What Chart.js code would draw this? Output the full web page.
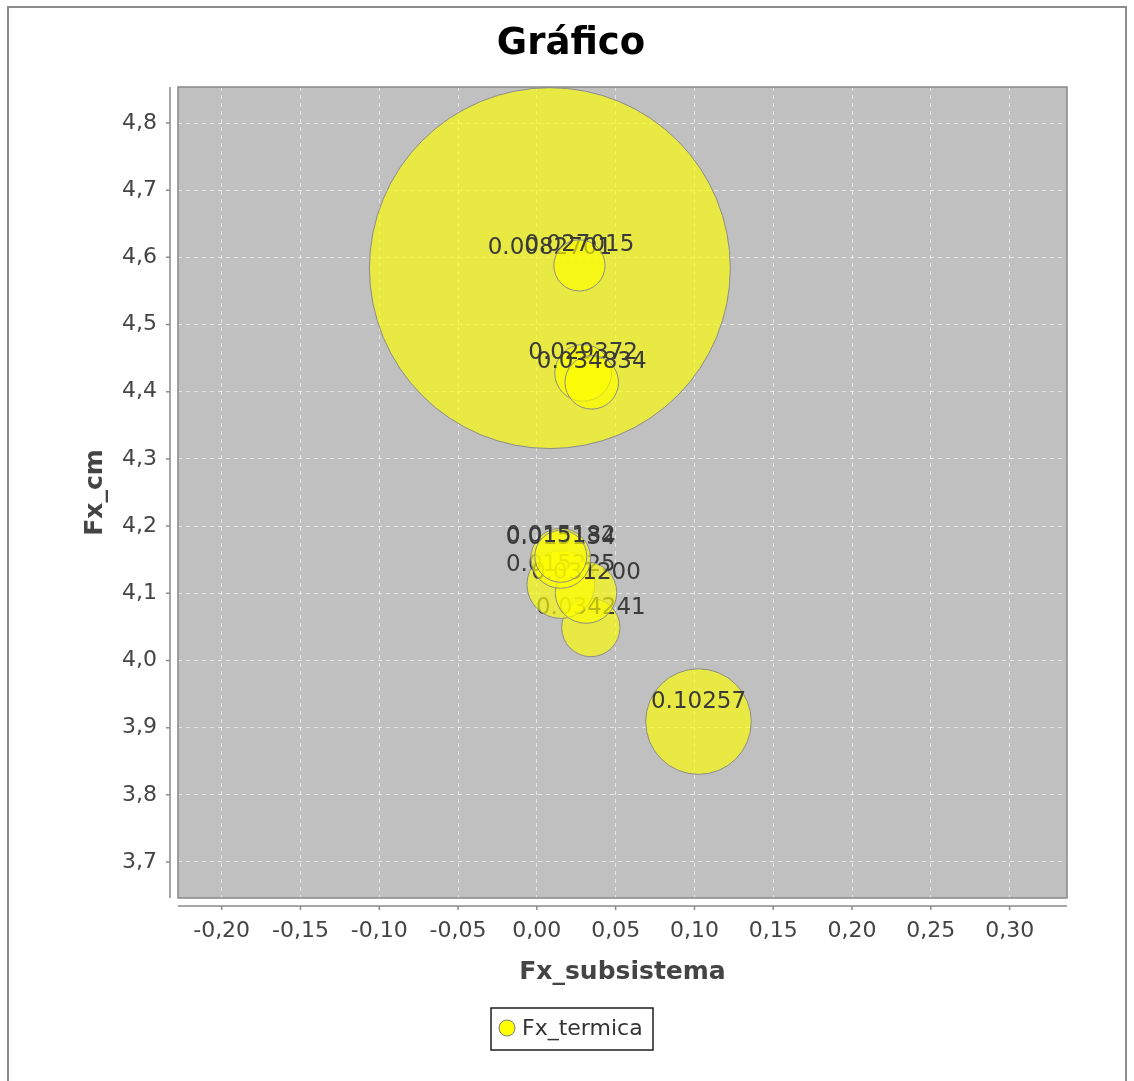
<!DOCTYPE html>
<html>
<head>
<meta charset="utf-8">
<title>Gráfico</title>
<script src="https://cdn.jsdelivr.net/npm/chart.js@4/dist/chart.umd.min.js"></script>
<style>
  html, body { margin: 0; padding: 0; background: #ffffff; }
  #wrap { width: 1134px; height: 1081px; position: relative; }
</style>
</head>
<body>
<div id="wrap"><canvas id="chart" width="1134" height="1081"></canvas></div>
<script>
// Series "Fx_termica": x = Fx_subsistema, y = Fx_cm, z = bubble size (domain-axis units).
// Items are listed in drawing order; each item label prints its x value.
const seriesName = 'Fx_termica';
const fxSubsistema = ['0.0082701', '0.027015', '0.029372', '0.034834', '0.10257',
                      '0.034241', '0.015225', '0.031200', '0.015134', '0.015182'];
const fxCm        = [4.584, 4.588, 4.428, 4.414, 3.909,
                     4.049, 4.113, 4.101, 4.152, 4.155];
const bubbleSize  = [0.229, 0.0325, 0.036, 0.034, 0.067,
                     0.037, 0.043, 0.039, 0.038, 0.033];

// Axis ranges and tick spacing
const xMin = -0.2277, xMax = 0.3364, xStep = 0.05;
const yMin = 3.6464, yMax = 4.8536, yStep = 0.1;

const FONT = 'DejaVu Sans';
const BUBBLE_FILL = 'rgba(255,255,0,0.65)';
const BUBBLE_EDGE = '#8c8c8c';

function commaNumber(v, digits) {
  let s = Math.abs(v) < 1e-9 ? (0).toFixed(digits) : v.toFixed(digits);
  return s.replace('.', ',');
}

const points = fxSubsistema.map((x, i) => ({ x: Number(x), y: fxCm[i] }));

// Bubble diameter follows the domain axis: z is measured in x units
function bubbleRadius(chart, i) {
  const xs = chart.scales.x;
  return Math.abs(xs.getPixelForValue(bubbleSize[i]) - xs.getPixelForValue(0)) / 2;
}

// Background, plot frame, offset axis lines, bubbles with item labels, legend
const framePlugin = {
  id: 'framePlugin',
  beforeDraw(chart) {
    const { ctx, chartArea: a } = chart;
    ctx.save();
    ctx.fillStyle = '#ffffff';
    ctx.fillRect(0, 0, chart.width, chart.height);
    ctx.strokeStyle = '#8c8c8c';
    ctx.lineWidth = 2;
    ctx.strokeRect(8, 7, 1118, 1100);
    ctx.fillStyle = '#c0c0c0';
    ctx.fillRect(a.left, a.top, a.right - a.left, a.bottom - a.top);
    ctx.restore();
  },
  beforeDatasetDraw() {
    // each bubble is painted together with its label, in item order
    return false;
  },
  afterDatasetsDraw(chart) {
    const { ctx, chartArea: a } = chart;
    const meta = chart.getDatasetMeta(0);
    const ds = chart.data.datasets[0];
    ctx.save();
    ctx.beginPath();
    ctx.rect(a.left, a.top, a.right - a.left, a.bottom - a.top);
    ctx.clip();
    meta.data.forEach((el, i) => {
      const r = bubbleRadius(chart, i);
      ctx.beginPath();
      ctx.arc(el.x, el.y, r, 0, Math.PI * 2);
      ctx.fillStyle = ds.backgroundColor;
      ctx.fill();
      ctx.lineWidth = ds.borderWidth;
      ctx.strokeStyle = ds.borderColor;
      ctx.stroke();
      ctx.font = '23px "' + FONT + '"';
      ctx.fillStyle = '#3a3a3a';
      ctx.textAlign = 'center';
      ctx.textBaseline = 'alphabetic';
      ctx.fillText(fxSubsistema[i], el.x, el.y - 14);
    });
    ctx.restore();
  },
  afterDraw(chart) {
    const { ctx, chartArea: a, scales } = chart;
    ctx.save();
    // plot outline
    ctx.strokeStyle = '#888888';
    ctx.lineWidth = 1.5;
    ctx.strokeRect(a.left, a.top, a.right - a.left, a.bottom - a.top);

    // axis lines, set slightly away from the plot
    ctx.strokeStyle = '#8a8a8a';
    ctx.lineWidth = 1.5;
    const yAxisX = a.left - 8;
    const xAxisY = a.bottom + 8;
    ctx.beginPath();
    ctx.moveTo(yAxisX, a.top);
    ctx.lineTo(yAxisX, a.bottom);
    ctx.moveTo(a.left, xAxisY);
    ctx.lineTo(a.right, xAxisY);
    scales.y.ticks.forEach((t, i) => {
      const py = scales.y.getPixelForTick(i);
      ctx.moveTo(yAxisX - 4, py);
      ctx.lineTo(yAxisX, py);
    });
    scales.x.ticks.forEach((t, i) => {
      const px = scales.x.getPixelForTick(i);
      ctx.moveTo(px, xAxisY);
      ctx.lineTo(px, xAxisY + 4);
    });
    ctx.stroke();

    // legend
    const lx = 491, ly = 1008, lw = 162, lh = 42;
    ctx.strokeStyle = '#1e1e1e';
    ctx.lineWidth = 1.5;
    ctx.strokeRect(lx, ly, lw, lh);
    ctx.beginPath();
    ctx.arc(lx + 16, ly + 20, 8, 0, Math.PI * 2);
    ctx.fillStyle = '#ffff00';
    ctx.fill();
    ctx.strokeStyle = '#7a7a7a';
    ctx.lineWidth = 1;
    ctx.stroke();
    ctx.fillStyle = '#333333';
    ctx.font = '22px "' + FONT + '"';
    ctx.textAlign = 'left';
    ctx.textBaseline = 'middle';
    ctx.fillText(chart.data.datasets[0].label, lx + 31, ly + 21);
    ctx.restore();
  }
};

Chart.defaults.font.family = FONT;

new Chart(document.getElementById('chart'), {
  type: 'bubble',
  data: {
    datasets: [{
      label: seriesName,
      data: points,
      backgroundColor: BUBBLE_FILL,
      borderColor: BUBBLE_EDGE,
      borderWidth: 1
    }]
  },
  options: {
    responsive: false,
    animation: false,
    events: [],
    layout: { padding: { left: 8, right: 0, top: 0, bottom: 94 } },
    plugins: {
      legend: { display: false },
      tooltip: { enabled: false },
      title: {
        display: true,
        text: 'Gráfico',
        color: '#000000',
        font: { size: 37, weight: 'bold' },
        padding: { top: 22, bottom: 20.6 }
      }
    },
    scales: {
      x: {
        type: 'linear',
        position: 'bottom',
        min: xMin,
        max: xMax,
        afterFit(s) { s.height = 89; },
        border: { display: false, dash: [4, 4] },
        grid: { color: 'rgba(255,255,255,0.6)', lineWidth: 1, drawTicks: false },
        ticks: {
          stepSize: xStep,
          includeBounds: false,
          autoSkip: false,
          maxRotation: 0,
          padding: 20,
          color: '#444444',
          font: { size: 22 },
          callback: v => commaNumber(v, 2)
        },
        title: {
          display: true,
          text: 'Fx_subsistema',
          color: '#444444',
          font: { size: 25, weight: 'bold' },
          padding: { top: 0, bottom: 0 }
        }
      },
      y: {
        type: 'linear',
        position: 'left',
        min: yMin,
        max: yMax,
        afterFit(s) { s.width = 170; },
        border: { display: false, dash: [4, 4] },
        grid: { color: 'rgba(255,255,255,0.6)', lineWidth: 1, drawTicks: false },
        ticks: {
          stepSize: yStep,
          includeBounds: false,
          autoSkip: false,
          padding: 21,
          color: '#444444',
          font: { size: 22 },
          callback: v => commaNumber(v, 1)
        },
        title: {
          display: true,
          text: 'Fx_cm',
          color: '#444444',
          font: { size: 25, weight: 'bold' },
          padding: { top: 72, bottom: 0 }
        }
      },
      yRight: {
        type: 'linear',
        position: 'right',
        display: true,
        afterFit(s) { s.width = 67; },
        grid: { display: false },
        border: { display: false },
        ticks: { display: false }
      }
    }
  },
  plugins: [framePlugin]
});
</script>
</body>
</html>
